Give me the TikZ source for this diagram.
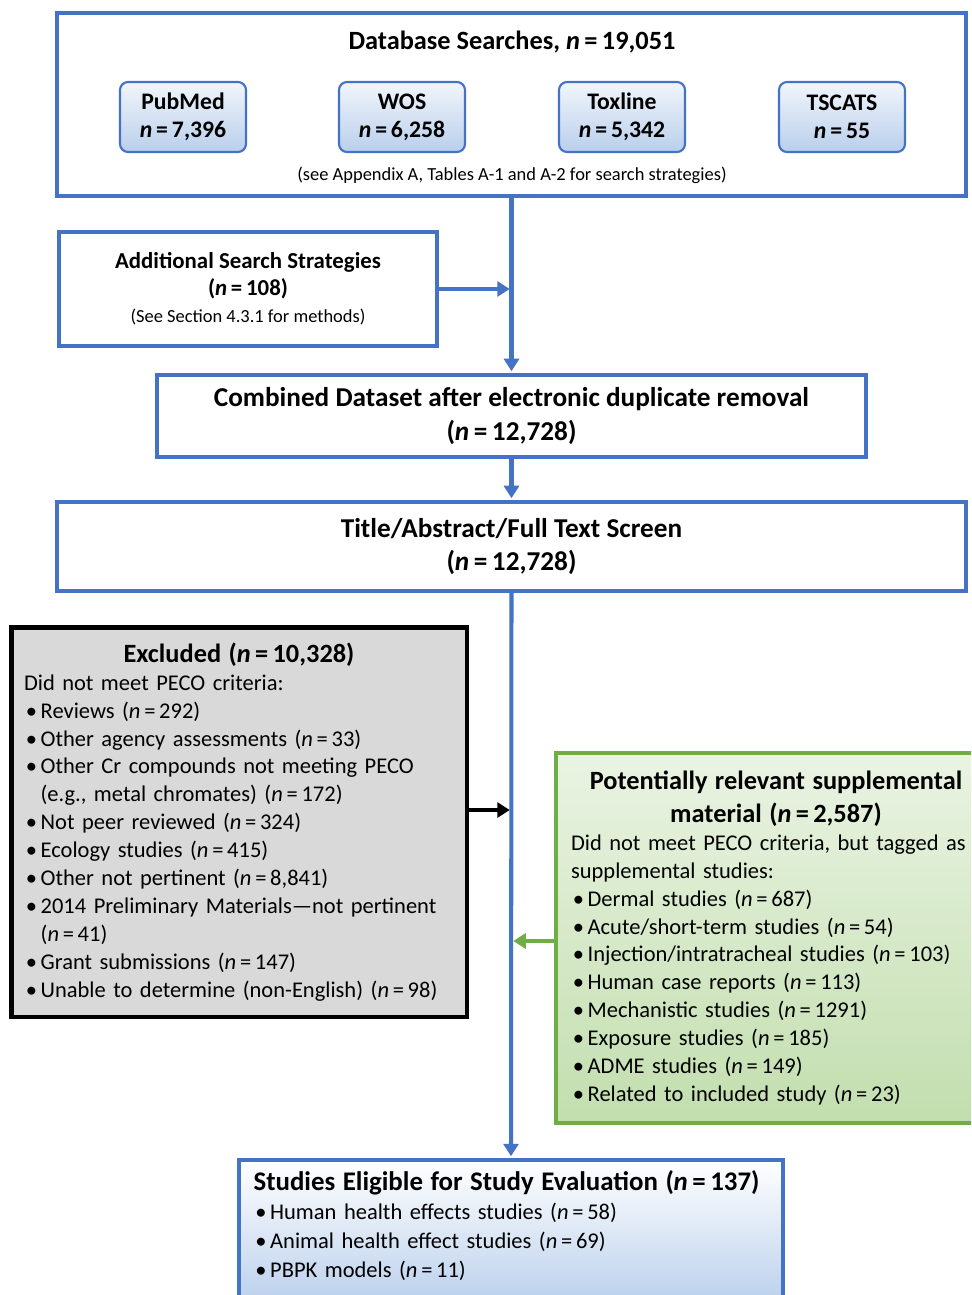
\documentclass[tikz,border=0pt]{standalone}
\usepackage{fontspec}
\setmainfont{Carlito}
\usetikzlibrary{arrows.meta}

\definecolor{boxblue}{HTML}{4472C4}
\definecolor{boxgreen}{HTML}{70AD47}
\definecolor{boxgrey}{HTML}{D9D9D9}
\definecolor{paleblue}{HTML}{B9CFEC}
\definecolor{palegreen}{HTML}{C2DEAE}

\newcommand{\nv}[1]{\textit{n}\,=\,#1}
\newcommand{\bul}[1]{\par\hangindent=0.74em\hangafter=1\noindent\makebox[0.74em][l]{\hspace{0.08em}\textbullet}#1}

\begin{document}
\begin{tikzpicture}[x=0.02cm, y=-0.02cm]

\tikzstyle{bluebox}=[rectangle, draw=boxblue, line width=2.3pt, fill=white, align=center]
\tikzstyle{dbbox}=[rectangle, rounded corners=0.16cm, draw=boxblue, line width=1.2pt, top color=paleblue!20!white, bottom color=paleblue, minimum width=2.52cm, minimum height=1.4cm, align=center, font=\fontsize{13.5}{16}\selectfont\bfseries]
\tikzstyle{greybox}=[rectangle, draw=black, line width=2.8pt, fill=boxgrey, text width=8.6cm, minimum width=9.12cm, minimum height=7.8cm, font=\fontsize{12.8}{15.9}\selectfont]
\tikzstyle{greenbox}=[rectangle, draw=boxgreen, line width=2.3pt, top color=palegreen!35!white, bottom color=palegreen, text width=8.2cm, minimum width=8.8cm, minimum height=7.4cm, font=\fontsize{12.8}{15.9}\selectfont]
\tikzstyle{finalbox}=[rectangle, draw=boxblue, line width=2.3pt, top color=white, bottom color=paleblue, text width=10.3cm, minimum width=10.88cm, inner ysep=0.22cm, text depth=2.1cm, font=\fontsize{12.8}{16.4}\selectfont]
\tikzstyle{arrow}=[-{Triangle[width=0.3cm,length=0.25cm]}, line width=2.3pt, draw=boxblue, shorten >=1pt]

\useasboundingbox (0,0) rectangle (971,1295);
\clip (0,0) rectangle (971,1295);

% searches
\node (db) [bluebox, minimum width=18.18cm, minimum height=3.66cm] at (511.5,104.5) {};
\node (dbtitle) [font=\fontsize{15}{18}\selectfont\bfseries] at (512,42) {Database Searches, \nv{19,051}};
\node (pubmed) [dbbox] at (183,117) {PubMed\\ \nv{7,396}};
\node (wos) [dbbox] at (402,117) {WOS\\ \nv{6,258}};
\node (toxline) [dbbox] at (622,117) {Toxline\\ \nv{5,342}};
\node (tscats) [dbbox] at (842,117) {TSCATS\\ \nv{55}};
\node (dbnote) [font=\fontsize{10.5}{12.5}\selectfont] at (512,175) {(see Appendix A, Tables A-1 and A-2 for search strategies)};

\node (add) [bluebox, minimum width=7.56cm, minimum height=2.28cm, font=\fontsize{13}{15.5}\selectfont] at (248,289)
  {\textbf{Additional Search Strategies}\\ \textbf{(\nv{108})}\\ {\fontsize{10.5}{12.5}\selectfont (See Section 4.3.1 for methods)}};

\node (comb) [bluebox, minimum width=14.18cm, minimum height=1.64cm, font=\fontsize{15.5}{19}\selectfont\bfseries] at (511.5,416)
  {Combined Dataset after electronic duplicate removal\\ (\nv{12,728})};

\node (screen) [bluebox, minimum width=18.18cm, minimum height=1.78cm, font=\fontsize{15.5}{18.5}\selectfont\bfseries] at (511.5,546.5)
  {Title/Abstract/Full Text Screen\\ (\nv{12,728})};

% excluded
\node (excl) [greybox] at (239,822) {%
  {\centering\fontsize{15}{18}\selectfont\bfseries Excluded (\nv{10,328})\par}
  \raggedright Did not meet PECO criteria:
  \bul{Reviews (\nv{292})}
  \bul{Other agency assessments (\nv{33})}
  \bul{Other Cr compounds not meeting PECO\newline (e.g., metal chromates) (\nv{172})}
  \bul{Not peer reviewed (\nv{324})}
  \bul{Ecology studies (\nv{415})}
  \bul{Other not pertinent (\nv{8,841})}
  \bul{2014 Preliminary Materials—not pertinent\newline (\nv{41})}
  \bul{Grant submissions (\nv{147})}
  \bul{Unable to determine (non-English) (\nv{98})}\par};

% supplemental
\node (supp) [greenbox] at (776,938) {%
  {\centering\fontsize{15}{18.8}\selectfont\bfseries Potentially relevant supplemental\\ material (\nv{2,587})\par}
  \raggedright Did not meet PECO criteria, but tagged as\newline supplemental studies:
  \bul{Dermal studies (\nv{687})}
  \bul{Acute/short-term studies (\nv{54})}
  \bul{Injection/intratracheal studies (\nv{103})}
  \bul{Human case reports (\nv{113})}
  \bul{Mechanistic studies (\nv{1291})}
  \bul{Exposure studies (\nv{185})}
  \bul{ADME studies (\nv{149})}
  \bul{Related to included study (\nv{23})}\par};

% eligible
\node (final) [finalbox, anchor=north] at (511,1158) {%
  {\fontsize{15.3}{19}\selectfont\bfseries Studies Eligible for Study Evaluation (\nv{137})\par}
  \raggedright
  \bul{Human health effects studies (\nv{58})}
  \bul{Animal health effect studies (\nv{69})}
  \bul{PBPK models (\nv{11})}\par};

\coordinate (exclout) at ([yshift=0.24cm]excl.east);

\draw [arrow] (db.south) -- (comb.north);
\draw [arrow] (add.east) -- (add.east -| db.south);
\draw [arrow] (comb.south) -- (screen.north);
\draw [arrow] (screen.south) -- (final.north);
\draw [arrow, draw=black] (exclout) -- (exclout -| screen.south);
\draw [arrow, draw=boxgreen] ([yshift=-0.06cm]supp.west) -- ([yshift=-0.06cm]supp.west -| screen.south);

\end{tikzpicture}
\end{document}
